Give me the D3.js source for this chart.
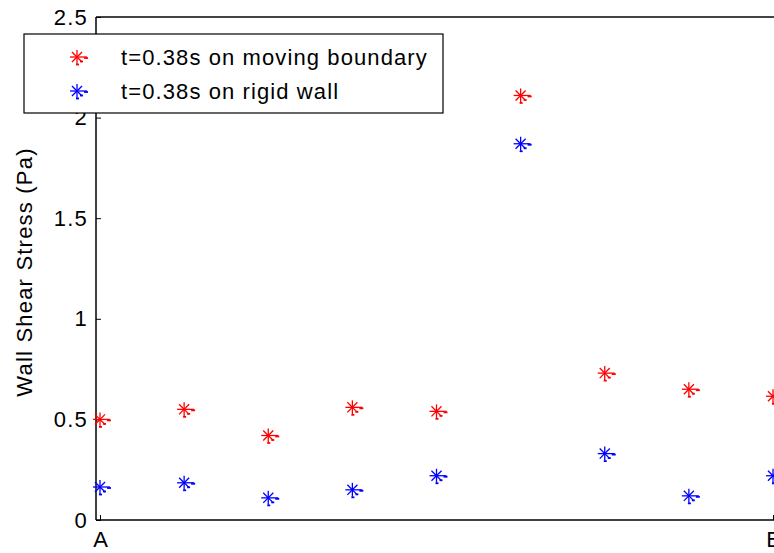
<!DOCTYPE html>
<html>
<head>
<meta charset="utf-8">
<script src="https://cdn.jsdelivr.net/npm/d3@7"></script>
<style>
  html, body { margin: 0; padding: 0; background: #fff; }
  svg { display: block; font-family: "Liberation Sans", Arial, sans-serif; }
</style>
</head>
<body>
<svg id="chart" width="774" height="553"></svg>
<script>
// Sample positions along the wall, from A to B
const positions = [0, 1, 2, 3, 4, 5, 6, 7, 8];
const xTickLabels = ["A", "B"];
const xTickValues = [0, 8];
const yTickValues = [0, 0.5, 1, 1.5, 2, 2.5];

// Wall shear stress (Pa) at t = 0.38 s
const movingBoundary = [0.50, 0.55, 0.42, 0.56, 0.54, 2.11, 0.73, 0.65, 0.615];
const rigidWall      = [0.164, 0.185, 0.11, 0.15, 0.22, 1.87, 0.33, 0.12, 0.22];

const seriesNames = ["t=0.38s on moving boundary", "t=0.38s on rigid wall"];
const seriesColors = ["#ff0000", "#0000ff"];

const svg = d3.select("#chart");
const plotLeft = 96, plotRight = 830, plotTop = 17, plotBottom = 520;
const fontFamily = "Liberation Sans, Arial, sans-serif";

const x = d3.scaleLinear().domain([0, 8]).range([100, 773]);
const y = d3.scaleLinear().domain([0, 2.5]).range([plotBottom, plotTop]);

// Axes box (left, bottom, top lines)
svg.append("line").attr("x1", plotLeft).attr("x2", plotRight).attr("y1", plotTop).attr("y2", plotTop)
  .attr("stroke", "#444").attr("stroke-width", 2);
svg.append("line").attr("x1", plotLeft).attr("x2", plotRight).attr("y1", plotBottom).attr("y2", plotBottom)
  .attr("stroke", "#000").attr("stroke-width", 1.5);
svg.append("line").attr("x1", plotLeft).attr("x2", plotLeft).attr("y1", plotTop).attr("y2", plotBottom)
  .attr("stroke", "#000").attr("stroke-width", 1.5);

// Y axis: inward ticks
const yAxis = d3.axisLeft(y).tickValues(yTickValues).tickSizeInner(-5).tickSizeOuter(0)
  .tickPadding(8).tickFormat(d3.format("~g"));
const gy = svg.append("g").attr("transform", `translate(${plotLeft},0)`).call(yAxis);
gy.select(".domain").remove();
gy.selectAll(".tick line").attr("stroke", "#000");
gy.selectAll(".tick text").attr("font-size", 22).attr("fill", "#000")
  .attr("letter-spacing", 1.2).attr("font-family", fontFamily);

// X axis: A and B ends
const xAxis = d3.axisBottom(x).tickValues(xTickValues).tickSizeInner(-5).tickSizeOuter(0)
  .tickPadding(11).tickFormat((d, i) => xTickLabels[i]);
const gx = svg.append("g").attr("transform", `translate(0,${plotBottom})`).call(xAxis);
gx.select(".domain").remove();
gx.selectAll(".tick line").attr("stroke", "#000");
gx.selectAll(".tick text").attr("font-size", 22).attr("fill", "#000")
  .attr("font-family", fontFamily);

// Y axis title
svg.append("text")
  .attr("transform", `translate(32,272) rotate(-90)`)
  .attr("text-anchor", "middle")
  .attr("font-size", 22)
  .attr("letter-spacing", 1.2)
  .attr("fill", "#000")
  .text("Wall Shear Stress (Pa)");

// Asterisk marker
function star(g, cx, cy, color) {
  const r = 7, d = r * 0.72;
  const m = g.append("g").attr("transform", `translate(${cx},${cy})`)
    .attr("stroke", color).attr("stroke-width", 1.3).attr("fill", "none");
  m.append("line").attr("x1", -r).attr("x2", r + 3).attr("y1", 0).attr("y2", 0);
  m.append("line").attr("x1", 0).attr("x2", 0).attr("y1", -r).attr("y2", r);
  m.append("line").attr("x1", -d).attr("x2", d).attr("y1", -d).attr("y2", d);
  m.append("line").attr("x1", -d).attr("x2", d).attr("y1", d).attr("y2", -d);
  m.append("line").attr("x1", 7).attr("x2", 11).attr("y1", 1).attr("y2", 1).attr("stroke-width", 1.8);
  m.append("line").attr("x1", 3).attr("x2", 6).attr("y1", 4.5).attr("y2", 4.5).attr("stroke-width", 1.8);
  m.append("line").attr("x1", -1).attr("x2", 2).attr("y1", 7.5).attr("y2", 7.5).attr("stroke-width", 1.8);
}

[movingBoundary, rigidWall].forEach((vals, si) => {
  const g = svg.append("g").attr("class", "series");
  vals.forEach((v, i) => star(g, x(positions[i]), y(v), seriesColors[si]));
});

// Legend
const lg = svg.append("g").attr("class", "legend");
lg.append("rect").attr("x", 24).attr("y", 34).attr("width", 419).attr("height", 79)
  .attr("fill", "#fff").attr("stroke", "#000").attr("stroke-width", 1.2);
seriesNames.forEach((name, i) => {
  const cy = 57 + i * 34;
  star(lg, 77, cy, seriesColors[i]);
  lg.append("text").attr("x", 121).attr("y", cy + 8).attr("font-size", 22)
    .attr("letter-spacing", 1.1).attr("fill", "#000").text(name);
});
</script>
</body>
</html>
